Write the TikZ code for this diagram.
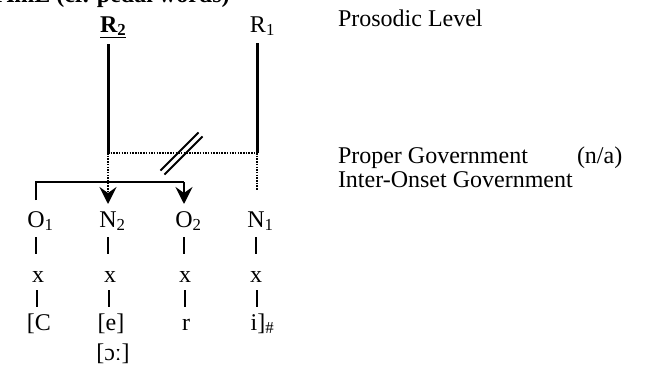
\documentclass[tikz,border=0pt]{standalone}
\usepackage{fontspec}
\setmainfont{Liberation Serif}
\usetikzlibrary{arrows.meta}
\begin{document}
\begin{tikzpicture}[x=1pt,y=-1pt,
  every node/.style={inner sep=0pt,outer sep=0pt,font=\fontsize{24}{28}\selectfont},
  lbl/.style={anchor=base},
  txt/.style={anchor=base west},
  prosodic/.style={line width=3pt},
  dotline/.style={line width=1.8pt,dash pattern=on 1.5pt off 1.2pt},
  solidline/.style={line width=2.4pt},
  tick/.style={line width=1.5pt},
  arr/.style={-{Stealth[length=17pt,width=17pt,inset=6pt]}},
  slash/.style={line width=1.8pt}]
\useasboundingbox (0,0) rectangle (648,372);
\clip (0,0) rectangle (648,372);
% top heading (clipped)
\node[txt] (head) at (-3,2) {\bfseries AmE (cf. pedal words)};
% prosodic level
\node[txt] (R2) at (100,32) {\bfseries\underline{R\textsubscript{2}}};
\node[lbl] (R1) at (258,32) {R\rlap{\textsubscript{1}}};
\node[txt] (pl) at (338,27) {Prosodic Level};
\node[txt] (pg) at (338,163) {Proper Government};
\node[txt] (na) at (577,163) {(n/a)};
\node[txt] (iog) at (338,187) {Inter-Onset Government};
% skeletal columns
\node[lbl] (O1) at (36,227) {O\rlap{\textsubscript{1}}};
\node[lbl] (N2) at (108,227) {N\rlap{\textsubscript{2}}};
\node[lbl] (O2) at (184,227) {O\rlap{\textsubscript{2}}};
\node[lbl] (N1) at (256,227) {N\rlap{\textsubscript{1}}};
\node[lbl] (x1) at (38,282) {x};
\node[lbl] (x2) at (110,282) {x};
\node[lbl] (x3) at (185,282) {x};
\node[lbl] (x4) at (256,282) {x};
\node[lbl] (s1) at (39,330) {[C};
\node[lbl] (s2) at (111,330) {[e]};
\node[lbl] (s3) at (186,330) {r};
\node[lbl] (s4) at (254,330) {i\rlap{]\textsubscript{\#}}};
\node[lbl] (s5) at (113,360) {[ɔː]};
% coordinates
\coordinate (r2b) at (108,44);
\coordinate (r2e) at (108,153);
\coordinate (r1b) at (257,43);
\coordinate (r1e) at (257,153);
\coordinate (n1e) at (257,190);
\coordinate (hl) at (36,182);
\coordinate (hr) at (184,182);
\coordinate (o1e) at (36,200);
\coordinate (n2t) at (108,204);
\coordinate (o2t) at (184,204);
% prosodic lines
\draw[prosodic] (r2b) -- (r2e);
\draw[prosodic] (r1b) -- (r1e);
\draw[dotline] (r2e) -- (r1e);
\draw[dotline] (r1e) -- (n1e);
\draw[dotline,arr] (r2e) -- (n2t);
% inter-onset government
\draw[solidline] (o1e) -- (hl) -- (hr);
\draw[solidline,arr] (hr) -- (o2t);
% double slash
\draw[slash] (160.5,170.5) -- (198.5,132.5);
\draw[slash] (164.5,174.5) -- (202.5,136.5);
% ticks
\foreach \c in {36,108,184,256}{
  \draw[tick] (\c,237) -- (\c,254);
  \draw[tick] (\c+1,290) -- (\c+1,307);
}
\end{tikzpicture}
\end{document}
